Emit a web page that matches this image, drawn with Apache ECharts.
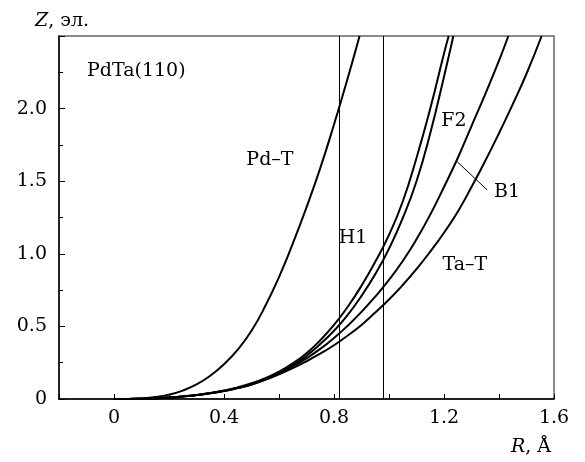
<!DOCTYPE html>
<html><head><meta charset="utf-8">
<script src="https://cdn.jsdelivr.net/npm/echarts@6/dist/echarts.min.js"></script>
<style>html,body{margin:0;padding:0;background:#fff}#c{width:585px;height:462px}</style>
</head><body><div id="c"></div>
<script>
// ---- data ----
const pdT = [[0,0],[0.05,0.0005],[0.1,0.004],[0.15,0.013],[0.2,0.03],[0.25,0.058],[0.3,0.1],[0.35,0.16],[0.4,0.24],[0.45,0.34],[0.5,0.47],[0.55,0.64],[0.6,0.84],[0.65,1.07],[0.7,1.32],[0.75,1.59],[0.8,1.89],[0.85,2.21],[0.893,2.5]];
const h1 = [[0,0],[0.05,0.0003],[0.1,0.002],[0.15,0.005],[0.2,0.01],[0.25,0.018],[0.3,0.028],[0.35,0.041],[0.4,0.058],[0.45,0.08],[0.5,0.108],[0.55,0.143],[0.6,0.188],[0.65,0.245],[0.7,0.315],[0.75,0.405],[0.8,0.51],[0.85,0.635],[0.9,0.78],[0.95,0.945],[1.0,1.13],[1.05,1.36],[1.1,1.66],[1.15,2.0],[1.2,2.38],[1.217,2.5]];
const f2 = [[0,0],[0.05,0.0003],[0.1,0.002],[0.15,0.005],[0.2,0.01],[0.25,0.017],[0.3,0.027],[0.35,0.039],[0.4,0.055],[0.45,0.075],[0.5,0.1],[0.55,0.135],[0.6,0.178],[0.65,0.232],[0.7,0.298],[0.75,0.378],[0.8,0.47],[0.85,0.58],[0.9,0.71],[0.95,0.86],[1.0,1.035],[1.05,1.245],[1.1,1.5],[1.15,1.83],[1.2,2.22],[1.234,2.5]];
const b1 = [[0,0],[0.05,0.0003],[0.1,0.002],[0.15,0.005],[0.2,0.01],[0.25,0.018],[0.3,0.028],[0.35,0.041],[0.4,0.057],[0.45,0.077],[0.5,0.102],[0.55,0.135],[0.6,0.175],[0.65,0.223],[0.7,0.28],[0.75,0.345],[0.8,0.42],[0.85,0.505],[0.9,0.6],[0.95,0.705],[1.0,0.82],[1.05,0.95],[1.1,1.1],[1.15,1.27],[1.2,1.46],[1.25,1.66],[1.3,1.88],[1.35,2.1],[1.4,2.33],[1.434,2.5]];
const taT = [[0,0],[0.05,0.0003],[0.1,0.002],[0.15,0.005],[0.2,0.01],[0.25,0.017],[0.3,0.027],[0.35,0.039],[0.4,0.055],[0.45,0.075],[0.5,0.1],[0.55,0.132],[0.6,0.17],[0.65,0.212],[0.7,0.26],[0.75,0.313],[0.8,0.37],[0.85,0.437],[0.9,0.51],[0.95,0.595],[1.0,0.685],[1.05,0.785],[1.1,0.895],[1.15,1.015],[1.2,1.145],[1.25,1.29],[1.3,1.46],[1.35,1.64],[1.4,1.83],[1.45,2.03],[1.5,2.24],[1.555,2.5]];
const vLines = [0.816, 0.976];
const b1Pointer = [[1.248, 1.634], [1.357, 1.44]];
const xTickLabels = [0, 0.4, 0.8, 1.2, 1.6];
const yTickLabels = {0: '0', 0.5: '0.5', 1: '1.0', 1.5: '1.5', 2: '2.0'};
const annotations = [
  {text: 'PdTa(110)', at: [-0.098, 2.259], align: 'left'},
  {text: 'Pd–T', at: [0.567, 1.646], align: 'center'},
  {text: 'H1', at: [0.869, 1.109], align: 'center'},
  {text: 'F2', at: [1.236, 1.915], align: 'center'},
  {text: 'B1', at: [1.429, 1.426], align: 'center'},
  {text: 'Ta–T', at: [1.276, 0.923], align: 'center'}
];

const FONT = 'DejaVu Serif';
const FS = 19;
const chart = echarts.init(document.getElementById('c'), null, {renderer: 'canvas'});

function curve(name, data, extra) {
  return Object.assign({
    name, type: 'line', data, showSymbol: false, smooth: 0.5,
    lineStyle: {color: '#000', width: 2}, silent: true, z: 3
  }, extra || {});
}

const option = {
  animation: false,
  backgroundColor: '#fff',
  grid: {left: 59, right: 31, top: 36, bottom: 63, show: true, borderColor: '#666', borderWidth: 1.5, backgroundColor: 'transparent'},
  xAxis: {
    type: 'value', min: -0.2, max: 1.6, interval: 0.2,
    axisLine: {show: true, onZero: false, lineStyle: {color: '#000', width: 1.5}},
    axisTick: {show: true, inside: true, length: 5, lineStyle: {color: '#000', width: 1}},
    splitLine: {show: false},
    axisLabel: {
      margin: 10, color: '#000', fontFamily: FONT, fontSize: FS,
      formatter: v => xTickLabels.some(t => Math.abs(t - v) < 1e-9) ? String(Math.round(v * 10) / 10) : ''
    }
  },
  yAxis: {
    type: 'value', min: 0, max: 2.5, interval: 0.5,
    axisLine: {show: true, onZero: false, lineStyle: {color: '#000', width: 1.5}},
    axisTick: {show: true, inside: true, length: 6, lineStyle: {color: '#000', width: 1}},
    minorTick: {show: true, splitNumber: 2, length: 4, lineStyle: {color: '#000', width: 1}},
    splitLine: {show: false},
    axisLabel: {
      margin: 12, color: '#000', fontFamily: FONT, fontSize: FS,
      formatter: v => { const k = Math.round(v * 10) / 10; return yTickLabels[k] !== undefined ? yTickLabels[k] : ''; }
    }
  },
  series: [
    curve('Pd–T', pdT, {
      markLine: {
        silent: true, symbol: 'none', label: {show: false},
        lineStyle: {color: '#000', width: 1, type: 'solid'},
        data: vLines.map(v => ({xAxis: v}))
      }
    }),
    curve('H1', h1),
    curve('F2', f2),
    curve('B1', b1, {
      markLine: {
        silent: true, symbol: 'none', label: {show: false},
        lineStyle: {color: '#000', width: 1, type: 'solid'},
        data: [[{coord: b1Pointer[0]}, {coord: b1Pointer[1]}]]
      }
    }),
    curve('Ta–T', taT)
  ]
};
chart.setOption(option);

const g = [];
annotations.forEach(a => {
  const p = chart.convertToPixel({gridIndex: 0}, a.at);
  g.push({type: 'text', x: p[0], y: p[1], z: 10,
    style: {text: a.text, fill: '#000', font: FS + 'px "' + FONT + '"', align: a.align, verticalAlign: 'middle'}});
});
g.push({type: 'text', x: 62, y: 21, z: 10, style: {
  text: '{i|Z}, эл.', fill: '#000', align: 'center', verticalAlign: 'middle', font: FS + 'px "' + FONT + '"',
  rich: {i: {fontStyle: 'italic', fontFamily: FONT, fontSize: FS}}
}});
g.push({type: 'text', x: 551, y: 447, z: 10, style: {
  text: '{i|R}, Å', fill: '#000', align: 'right', verticalAlign: 'middle', font: FS + 'px "' + FONT + '"',
  rich: {i: {fontStyle: 'italic', fontFamily: FONT, fontSize: FS}}
}});
chart.setOption({graphic: g});
</script>
</body></html>
